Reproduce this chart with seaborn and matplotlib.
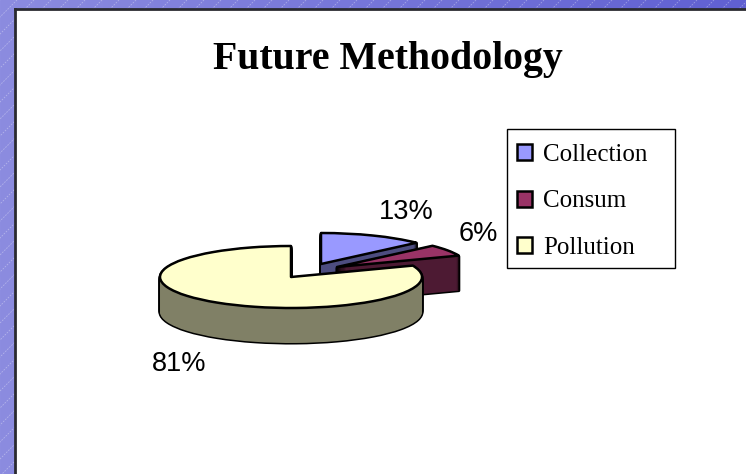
import numpy as np
import matplotlib
matplotlib.use('Agg')
import matplotlib.pyplot as plt
from matplotlib.patches import Rectangle
import seaborn as sns

sns.set_theme(style='white')
plt.rcParams['font.family'] = ['Liberation Serif', 'DejaVu Serif']

labels = ['Collection', 'Consum', 'Pollution']
values = [13, 6, 81]
colors = ['#9999FF', '#993366', '#FFFFCC']
sides = ['#4D4D80', '#4D1A33', '#808066']

W, H = 746, 474
RX, RY = 131, 31
DEPTH = 35
# slice centres in picture pixels
centers = [(321, 264), (337, 267), (291, 277)]
label_pos = [(406, 212), (478, 234), (179, 364)]


def ypx(y):
    # the y axis is stretched so circles come out as flat ellipses
    return (H - y) * RX / RY


fig = plt.figure(figsize=(W / 100, H / 100), dpi=100)

# background gradient with thin diagonal dashes
bg = fig.add_axes([0, 0, 1, 1], zorder=0)
grad = np.array(sns.blend_palette(['#8C8CE0', '#6060D2'], 256))[None, :, :]
bg.imshow(grad, extent=[0, W, H, 0], aspect='auto')
for x0 in range(0, W + 500, 17):
    bg.plot([x0, x0 - 500], [0, 500], color='white', alpha=0.35, lw=0.6, ls=(0, (2, 1.5)))
bg.set_xlim(0, W)
bg.set_ylim(H, 0)
bg.axis('off')

# white slide panel
panel = fig.add_axes([15 / W, 0, 1 - 15 / W, 1 - 9 / H], zorder=1)
panel.set_facecolor('white')
panel.set_xticks([])
panel.set_yticks([])
for side in ['right', 'bottom']:
    panel.spines[side].set_visible(False)
for side in ['left', 'top']:
    panel.spines[side].set_color('#2A2A30')
    panel.spines[side].set_linewidth(2)

ax = fig.add_axes([0, 0, 1, 1], zorder=2)
ax.patch.set_alpha(0)


def draw_pie(dy, fills, edge, lw, z, autopct=None):
    res = ax.pie(values, colors=fills, radius=RX, startangle=90, counterclock=False,
                 autopct=autopct, wedgeprops=dict(edgecolor=edge, linewidth=lw))
    for i, w in enumerate(res[0]):
        w.set_center((centers[i][0], ypx(centers[i][1] + dy)))
        w.set_zorder(10 * i + z)
        w.set_joinstyle('round')
    return res


# extruded walls: black pass gives the outline, dark pass fills it
for d in range(DEPTH, 0, -1):
    draw_pie(d, sides, 'black', 2.2, 1)
    draw_pie(d, sides, 'none', 0, 2)

wedges, _, autotexts = draw_pie(0, colors, 'black', 1.8, 3, autopct='%.0f%%')
for t, (x, y) in zip(autotexts, label_pos):
    t.set_position((x, ypx(y)))
    t.set_family(['Liberation Sans', 'DejaVu Sans'])
    t.set_fontsize(19.5)
    t.set_color('black')
    t.set_zorder(50)

ax.set_aspect('auto')
ax.set_xlim(0, W)
ax.set_ylim(0, ypx(0))
ax.axis('off')

ax.text(387.5, ypx(59), 'Future Methodology', ha='center', va='center',
        fontsize=28.7, fontweight='bold', color='black')

# legend frame drawn apart so its height can match the rows
ax.add_patch(Rectangle((507, ypx(268)), 168, ypx(129) - ypx(268), facecolor='white',
                       edgecolor='black', linewidth=1, zorder=55))
leg = ax.legend(wedges, labels, loc='upper left', mode='expand',
                bbox_to_anchor=(507 / W, 1 - 273 / H, 168 / W, 139 / H),
                borderaxespad=0, frameon=False, labelcolor='black', prop={'size': 18},
                labelspacing=0.98, handlelength=0.6, handleheight=0.6,
                handletextpad=0.45, borderpad=0.4)
leg.set_zorder(60)

fig.savefig('out.png', dpi=100)
